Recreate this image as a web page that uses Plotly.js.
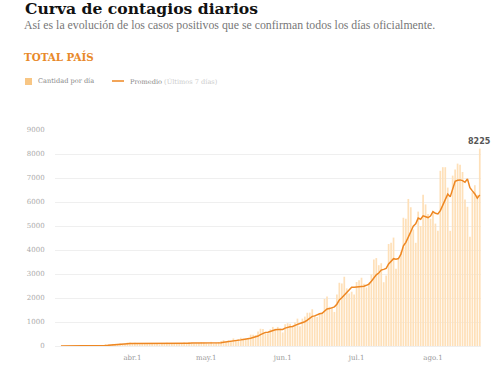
<!DOCTYPE html>
<html>
<head>
<meta charset="utf-8">
<script src="https://cdn.plot.ly/plotly-3.0.1.min.js"></script>
<style>
html,body{margin:0;padding:0;background:#fff;}
#chart{width:504px;height:381px;}
</style>
</head>
<body>
<div id="chart"></div>
<script>
// Daily confirmed cases (Total país), 3 Mar – 20 Aug 2020
const casosMar = [1,0,1,6,1,3,5,2,2,12,3,11,11,9,14,14,18,31,67,41,36,86,86,87,101,55,75,146,146];
const casosAbr = [87,132,98,79,91,87,112,87,81,79,87,66,98,88,138,103,110,92,102,111,112,144,100,167,113,93,111,124,158,143];
const casosMay = [111,97,173,97,121,162,212,244,165,240,178,316,255,285,345,308,302,289,474,471,456,603,718,704,552,535,697,795,723,795,734];
const casosJun = [564,904,949,929,840,983,1141,826,1141,1226,1386,1391,1531,1282,1208,1374,1393,1958,2060,1634,1581,1419,2146,2635,2606,2886,2401,2189,2262,2146];
const casosJul = [2667,2744,2845,2590,2439,2632,2979,3604,3663,3367,3449,2657,2936,4250,4300,4518,3223,3624,3937,5344,5300,6127,5782,4854,4300,5600,5000,6300,5900,5500,5300];
const casosAgo = [5600,5100,4800,7300,7450,7450,6600,4800,7100,7350,7600,7550,7250,6100,5800,4550,6400,6700,6300,8225];

// Promedio (últimos 7 días)
const promMar = [1,0.5,0.7,2,1.8,2,2.4,2.6,2.9,4.4,4,5.4,6.6,7.1,8.9,10.6,11.4,15.4,23.4,27.7,31.6,41.9,52.1,62,72,70.3,75.1,90.9,99.4];
const promAbr = [100,106,106,109,111,103,98,98,91,88,89,86,87,84,91,94,99,99,104,106,110,111,110,118,121,120,120,122,124,130];
const promMay = [122,120,131,129,129,129,139,158,168,177,189,217,230,240,255,275,284,300,323,353,378,415,473,531,568,577,609,658,675,686,690];
const promJun = [692,745,781,800,816,843,901,939,973,1012,1078,1156,1235,1255,1309,1343,1366,1448,1544,1558,1601,1631,1742,1919,2012,2130,2239,2326,2446,2446];
const promJul = [2451,2471,2465,2492,2528,2580,2699,2833,2965,3039,3162,3193,3236,3418,3517,3640,3619,3644,3827,4171,4321,4582,4762,4995,5092,5330,5280,5423,5391,5351,5414];
const promAgo = [5600,5529,5500,5643,5864,6143,6329,6214,6500,6864,6907,6921,6893,6821,6964,6600,6464,6336,6157,6296];

const meses = ['03','04','05','06','07','08'];
const diaInicial = [3,1,1,1,1,1];
const tickVals = ['2020-04-01','2020-05-01','2020-06-01','2020-07-01','2020-08-01'];
const tickText = ['abr.1','may.1','jun.1','jul.1','ago.1'];
const yTicks = [0,1000,2000,3000,4000,5000,6000,7000,8000,9000];

const casosPorMes = [casosMar,casosAbr,casosMay,casosJun,casosJul,casosAgo];
const promPorMes = [promMar,promAbr,promMay,promJun,promJul,promAgo];

const fechas = [], casos = [], promedio = [];
casosPorMes.forEach((arr, m) => {
  arr.forEach((v, i) => {
    const d = diaInicial[m] + i;
    fechas.push('2020-' + meses[m] + '-' + String(d).padStart(2,'0'));
    casos.push(v);
    promedio.push(promPorMes[m][i]);
  });
});

const ML = 55, MR = 23, MT = 130, MB = 35, W = 504, H = 381;
const PW = W - ML - MR, PH = H - MT - MB;
const px2x = p => (p - ML) / PW;
const px2y = p => (H - MB - p) / PH;

const serif = 'Liberation Serif';
const tickFont = {family: 'DejaVu Serif', size: 7, color: '#aaa'};

const traces = [
  {
    type: 'bar', x: fechas, y: casos, name: 'Cantidad por día',
    marker: {color: '#fee0b9', line: {width: 0}}, hoverinfo: 'skip'
  },
  {
    type: 'scatter', mode: 'lines', x: fechas, y: promedio, name: 'Promedio',
    line: {color: '#ee8722', width: 1.5}, hoverinfo: 'skip'
  }
];

const last = fechas.length - 1;

const layout = {
  width: W, height: H,
  margin: {l: ML, r: MR, t: MT, b: MB, pad: 0},
  paper_bgcolor: '#fff', plot_bgcolor: '#fff',
  showlegend: false,
  bargap: 0.3,
  title: {
    text: '<b>Curva de contagios diarios</b>',
    font: {family: 'DejaVu Serif', size: 15.6, color: '#111'},
    x: 25 / W, xanchor: 'left', xref: 'container',
    y: 1 - 9 / H, yanchor: 'middle', yref: 'container'
  },
  xaxis: {
    type: 'date',
    range: ['2020-02-29 14:00', '2020-08-20 12:00'],
    tickvals: tickVals, ticktext: tickText,
    tickfont: {family: 'DejaVu Serif', size: 7, color: '#999'},
    ticks: 'outside', ticklen: 5, tickcolor: 'rgba(0,0,0,0)',
    showgrid: false, zeroline: false, showline: false, fixedrange: true
  },
  yaxis: {
    range: [0, 9000],
    tickvals: yTicks, ticktext: yTicks.map(String),
    tickfont: tickFont,
    ticks: 'outside', ticklen: 8, tickcolor: 'rgba(0,0,0,0)',
    showgrid: true, gridcolor: '#efefef', gridwidth: 1,
    zeroline: true, zerolinecolor: '#efefef', zerolinewidth: 1,
    showline: false, fixedrange: true
  },
  shapes: [
    {type: 'rect', xref: 'paper', yref: 'paper',
     x0: px2x(25), x1: px2x(32), y0: px2y(85), y1: px2y(78),
     fillcolor: '#f8c684', line: {width: 0}},
    {type: 'line', xref: 'paper', yref: 'paper',
     x0: px2x(112), x1: px2x(124), y0: px2y(81), y1: px2y(81),
     line: {color: '#ee8722', width: 1.5}}
  ],
  annotations: [
    {xref: 'paper', yref: 'paper', x: px2x(22), y: px2y(25),
     xanchor: 'left', yanchor: 'middle', showarrow: false,
     text: 'Así es la evolución de los casos positivos que se confirman todos los días oficialmente.',
     font: {family: serif, size: 11.8, color: '#777'}},
    {xref: 'paper', yref: 'paper', x: px2x(22), y: px2y(57),
     xanchor: 'left', yanchor: 'middle', showarrow: false,
     text: '<b>TOTAL PAÍS</b>',
     font: {family: 'DejaVu Serif', size: 10.3, color: '#e8892a'}},
    {xref: 'paper', yref: 'paper', x: px2x(36), y: px2y(81),
     xanchor: 'left', yanchor: 'middle', showarrow: false,
     text: 'Cantidad por día',
     font: {family: 'DejaVu Serif', size: 6.6, color: '#888'}},
    {xref: 'paper', yref: 'paper', x: px2x(128), y: px2y(81),
     xanchor: 'left', yanchor: 'middle', showarrow: false,
     text: 'Promedio <span style="color:#ccc">(Últimos 7 días)</span>',
     font: {family: 'DejaVu Serif', size: 6.6, color: '#888'}},
    {xref: 'x', yref: 'y', x: fechas[last], y: casos[last],
     xanchor: 'center', yanchor: 'bottom', yshift: 1, showarrow: false,
     text: '<b>' + String(casos[last]) + '</b>',
     font: {family: 'DejaVu Sans', size: 8, color: '#555'}}
  ]
};

Plotly.newPlot('chart', traces, layout, {staticPlot: true, displayModeBar: false});
</script>
</body>
</html>
